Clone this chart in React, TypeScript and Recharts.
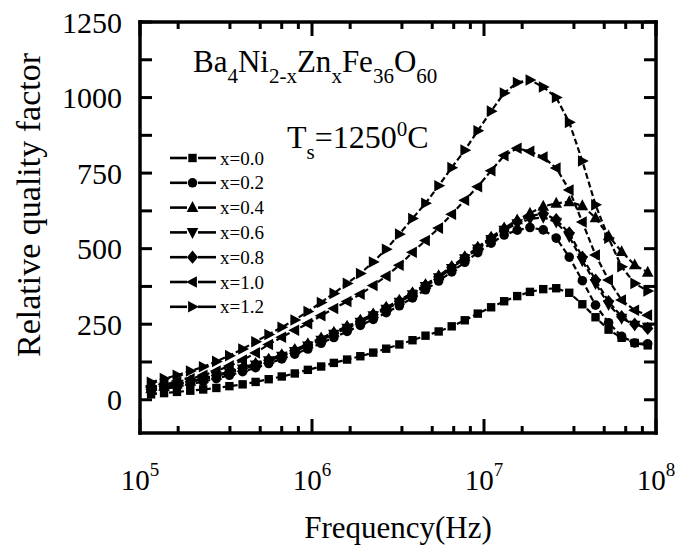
import React from 'react';
import { LineChart, Line, XAxis, YAxis, Legend, Customized } from 'recharts';

// Frequency (Hz), shared by every series
const frequencies = [
  1.16e5, 1.38e5, 1.64e5, 1.96e5, 2.33e5, 2.78e5, 3.31e5, 3.95e5, 4.70e5, 5.60e5,
  6.67e5, 7.94e5, 9.46e5, 1.13e6, 1.34e6, 1.60e6, 1.91e6, 2.27e6, 2.70e6, 3.22e6,
  3.84e6, 4.57e6, 5.45e6, 6.49e6, 7.73e6, 9.20e6, 1.10e7, 1.31e7, 1.56e7, 1.85e7,
  2.21e7, 2.63e7, 3.13e7, 3.73e7, 4.45e7, 5.30e7, 6.31e7, 7.52e7, 8.95e7,
];

// Relative quality factor, one array per composition
const qX00 = [18, 22, 26, 30, 34, 39, 45, 51, 59, 68, 77, 87, 99, 110, 122, 133, 144, 156, 169, 183, 197, 212, 226, 243, 263, 285, 306, 326, 343, 357, 366, 369, 354, 316, 273, 232, 205, 188, 180];
const qX02 = [30, 36, 43, 51, 60, 70, 81, 93, 106, 120, 135, 151, 168, 187, 206, 226, 246, 266, 288, 311, 337, 364, 393, 423, 455, 487, 518, 545, 561, 570, 562, 535, 472, 394, 313, 255, 210, 188, 185];
const qX04 = [36, 44, 52, 61, 71, 81, 93, 106, 120, 134, 149, 166, 185, 204, 223, 243, 263, 284, 306, 329, 354, 381, 410, 441, 473, 505, 538, 568, 595, 617, 640, 650, 655, 642, 602, 542, 490, 446, 422];
const qX06 = [34, 42, 50, 59, 68, 78, 90, 102, 115, 129, 144, 160, 178, 197, 217, 237, 257, 278, 300, 323, 348, 375, 404, 435, 467, 499, 531, 561, 583, 598, 604, 588, 540, 460, 385, 315, 270, 247, 240];
const qX08 = [35, 43, 51, 60, 70, 80, 92, 104, 117, 131, 146, 163, 181, 200, 220, 240, 260, 281, 303, 326, 351, 378, 407, 438, 470, 502, 535, 565, 589, 608, 616, 596, 552, 472, 396, 325, 275, 250, 236];
const qX10 = [42, 50, 59, 69, 81, 95, 112, 131, 155, 183, 207, 230, 252, 278, 302, 325, 349, 378, 409, 445, 488, 527, 568, 614, 660, 705, 758, 808, 832, 822, 803, 767, 694, 588, 479, 396, 330, 296, 280];
const qX12 = [58, 70, 81, 95, 109, 127, 146, 168, 192, 216, 240, 264, 292, 322, 352, 385, 418, 456, 498, 548, 600, 650, 708, 768, 826, 890, 955, 1015, 1050, 1058, 1035, 1000, 918, 790, 645, 535, 440, 385, 360];

const seriesNames = ['x=0.0', 'x=0.2', 'x=0.4', 'x=0.6', 'x=0.8', 'x=1.0', 'x=1.2'];
const seriesKeys = ['x00', 'x02', 'x04', 'x06', 'x08', 'x10', 'x12'];
const seriesValues = [qX00, qX02, qX04, qX06, qX08, qX10, qX12];
const markerShapes = ['square', 'circle', 'up', 'down', 'diamond', 'left', 'right'];

const yTicks = [0, 125, 250, 375, 500, 625, 750, 875, 1000, 1125, 1250];
const yLabelled = [0, 250, 500, 750, 1000, 1250];
const xDecades = [1e5, 1e6, 1e7, 1e8];
const xMinorFactors = [5 / 3, 10 / 3, 5, 20 / 3, 25 / 3];

const xTicks: number[] = [];
xDecades.forEach((d, i) => {
  xTicks.push(d);
  if (i < xDecades.length - 1) xMinorFactors.forEach((m) => xTicks.push(d * m));
});

const data = frequencies.map((f, i) => {
  const row: any = { f };
  seriesKeys.forEach((k, j) => {
    row[k] = seriesValues[j][i];
  });
  return row;
});

const FONT = '"Liberation Serif", "Times New Roman", serif';
const X_DOMAIN: [number, number] = [1e5, 1e8];
const Y_DOMAIN: [number, number] = [-110, 1250];

function MarkerShape({ cx, cy, shape }: any) {
  if (cx == null || cy == null || isNaN(cx) || isNaN(cy)) return null;
  switch (shape) {
    case 'square':
      return <rect x={cx - 4.2} y={cy - 4.2} width={8.4} height={8.4} fill="#000" />;
    case 'circle':
      return <circle cx={cx} cy={cy} r={4.8} fill="#000" />;
    case 'up':
      return <polygon points={`${cx},${cy - 6.5} ${cx + 5.8},${cy + 4.4} ${cx - 5.8},${cy + 4.4}`} fill="#000" />;
    case 'down':
      return <polygon points={`${cx},${cy + 6.5} ${cx + 5.8},${cy - 4.4} ${cx - 5.8},${cy - 4.4}`} fill="#000" />;
    case 'diamond':
      return <polygon points={`${cx},${cy - 6.6} ${cx + 5.6},${cy} ${cx},${cy + 6.6} ${cx - 5.6},${cy}`} fill="#000" />;
    case 'left':
      return <polygon points={`${cx - 6.5},${cy} ${cx + 4.4},${cy - 5.8} ${cx + 4.4},${cy + 5.8}`} fill="#000" />;
    case 'right':
      return <polygon points={`${cx + 6.5},${cy} ${cx - 4.4},${cy - 5.8} ${cx - 4.4},${cy + 5.8}`} fill="#000" />;
    default:
      return null;
  }
}

const isDecade = (v: number) => {
  const lg = Math.log10(v);
  return Math.abs(lg - Math.round(lg)) < 1e-6;
};

const XTickBottom = (props: any) => {
  const { x, y, payload } = props;
  const v = payload.value;
  const major = isDecade(v);
  return (
    <g>
      <line x1={x} y1={y} x2={x} y2={y - (major ? 14 : 7)} stroke="#000" strokeWidth={3} />
      {major && (
        <text x={x} y={y + 57} textAnchor="middle" fontFamily={FONT} fontSize={29} fill="#000">
          10
          <tspan dy={-14} fontSize={19}>{Math.round(Math.log10(v))}</tspan>
        </text>
      )}
    </g>
  );
};

const XTickTop = (props: any) => {
  const { x, y, payload } = props;
  const major = isDecade(payload.value);
  return <line x1={x} y1={y} x2={x} y2={y + (major ? 14 : 7)} stroke="#000" strokeWidth={3} />;
};

const YTickLeft = (props: any) => {
  const { x, y, payload } = props;
  const v = payload.value;
  return (
    <g>
      <line x1={x} y1={y} x2={x + 12} y2={y} stroke="#000" strokeWidth={3} />
      {yLabelled.includes(v) && (
        <text x={x - 18} y={y} dy="0.35em" textAnchor="end" fontFamily={FONT} fontSize={30} fill="#000">
          {v}
        </text>
      )}
    </g>
  );
};

const YTickRight = (props: any) => {
  const { x, y } = props;
  return <line x1={x} y1={y} x2={x - 12} y2={y} stroke="#000" strokeWidth={3} />;
};

const LegendContent = () => (
  <svg width={130} height={180}>
    {seriesNames.map((name, i) => {
      const cy = 10 + i * 24.8;
      return (
        <g key={name}>
          <line x1={2} y1={cy} x2={19} y2={cy} stroke="#000" strokeWidth={2.6} />
          <line x1={30} y1={cy} x2={48} y2={cy} stroke="#000" strokeWidth={2.6} />
          <MarkerShape cx={24.5} cy={cy} shape={markerShapes[i]} />
          <text x={52} y={cy} dy="0.35em" fontFamily={FONT} fontSize={19} fill="#000">
            {name}
          </text>
        </g>
      );
    })}
  </svg>
);

const TextLayer = () => (
  <g>
    <text x={193} y={72} fontFamily={FONT} fontSize={31} fill="#000">
      Ba
      <tspan dy={11} fontSize={21}>4</tspan>
      <tspan dy={-11}>Ni</tspan>
      <tspan dy={11} fontSize={21}>2-x</tspan>
      <tspan dy={-11}>Zn</tspan>
      <tspan dy={11} fontSize={21}>x</tspan>
      <tspan dy={-11}>Fe</tspan>
      <tspan dy={11} fontSize={21}>36</tspan>
      <tspan dy={-11}>O</tspan>
      <tspan dy={11} fontSize={21}>60</tspan>
    </text>
    <text x={287} y={148} fontFamily={FONT} fontSize={32} fill="#000">
      T
      <tspan dy={11} fontSize={21}>s</tspan>
      <tspan dy={-11}>=1250</tspan>
      <tspan dy={-12} fontSize={21}>0</tspan>
      <tspan dy={12}>C</tspan>
    </text>
    <text
      transform="translate(40,205) rotate(-90)"
      x={0}
      y={0}
      textAnchor="middle"
      fontFamily={FONT}
      fontSize={34}
      fill="#000"
    >
      Relative quality factor
    </text>
    <text x={398} y={538} textAnchor="middle" fontFamily={FONT} fontSize={31} fill="#000">
      Frequency(Hz)
    </text>
  </g>
);

const axisLineStyle = { stroke: '#000', strokeWidth: 3.5, strokeLinecap: 'square' as const };

export default function App() {
  return (
    <div style={{ position: 'absolute', left: 0, top: 0, width: 678, height: 555, background: '#fff' }}>
      <LineChart width={678} height={555} data={data} margin={{ top: 21, right: 21, left: 139, bottom: 121 }}>
        <XAxis
          xAxisId="bottom"
          dataKey="f"
          type="number"
          scale="log"
          domain={X_DOMAIN}
          allowDataOverflow
          ticks={xTicks}
          interval={0}
          height={1}
          tickSize={0}
          tickMargin={0}
          tick={<XTickBottom />}
          axisLine={axisLineStyle}
          tickLine={false}
        />
        <XAxis
          xAxisId="top"
          orientation="top"
          dataKey="f"
          type="number"
          scale="log"
          domain={X_DOMAIN}
          allowDataOverflow
          ticks={xTicks}
          interval={0}
          height={1}
          tickSize={0}
          tickMargin={0}
          tick={<XTickTop />}
          axisLine={axisLineStyle}
          tickLine={false}
        />
        <YAxis
          yAxisId="left"
          type="number"
          domain={Y_DOMAIN}
          allowDataOverflow
          ticks={yTicks}
          interval={0}
          width={1}
          tickSize={0}
          tickMargin={0}
          tick={<YTickLeft />}
          axisLine={axisLineStyle}
          tickLine={false}
        />
        <YAxis
          yAxisId="right"
          orientation="right"
          type="number"
          domain={Y_DOMAIN}
          allowDataOverflow
          ticks={yTicks}
          interval={0}
          width={1}
          tickSize={0}
          tickMargin={0}
          tick={<YTickRight />}
          axisLine={axisLineStyle}
          tickLine={false}
        />
        {seriesKeys.map((k, i) => (
          <Line
            key={k}
            xAxisId="bottom"
            yAxisId="left"
            dataKey={k}
            name={seriesNames[i]}
            type="linear"
            stroke="#000"
            strokeWidth={2.2}
            strokeDasharray="6 3"
            isAnimationActive={false}
            dot={(p: any) => <MarkerShape key={`${k}-${p.index}`} cx={p.cx} cy={p.cy} shape={markerShapes[i]} />}
            activeDot={false}
          />
        ))}
        <Legend
          layout="vertical"
          align="center"
          verticalAlign="middle"
          content={<LegendContent />}
          wrapperStyle={{ position: 'absolute', left: 168, top: 148, width: 130, height: 180 }}
        />
        <Customized component={TextLayer} />
      </LineChart>
    </div>
  );
}
